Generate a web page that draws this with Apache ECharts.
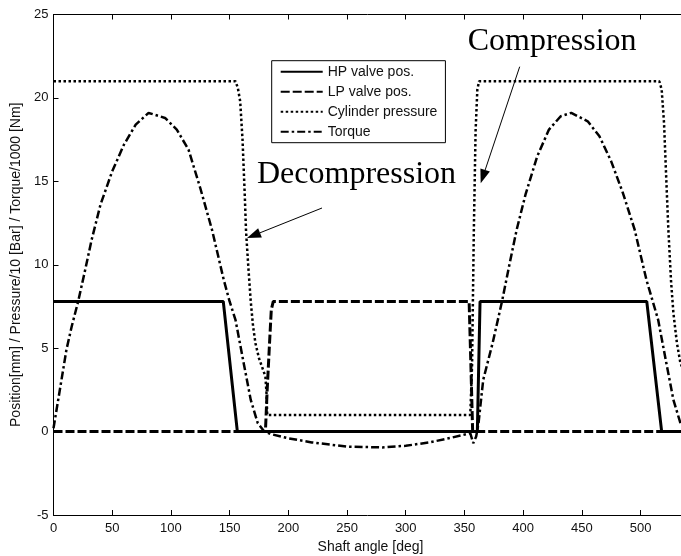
<!DOCTYPE html>
<html>
<head>
<meta charset="utf-8">
<script src="https://cdn.jsdelivr.net/npm/echarts@6/dist/echarts.min.js"></script>
<style>
  html, body { margin: 0; padding: 0; background: #fff; }
  #chart { width: 681px; height: 556px; }
</style>
</head>
<body>
<div id="chart"></div>
<script>
// values (shaft angle in deg)
const seriesNames = ['HP valve pos.', 'LP valve pos.', 'Cylinder pressure', 'Torque']

const hpAngle = [0, 144.6, 156.6, 361, 363.3, 505.3, 518, 540]
const hpPos = [7.8, 7.8, 0, 0, 7.8, 7.8, 0, 0]

const lpAngle = [0, 180.5, 182, 184, 185.5, 187.2, 354, 355.5, 357, 540]
const lpPos = [0, 0, 2.5, 5.3, 7.3, 7.8, 7.8, 4, 0, 0]

const pressAngle = [0, 155, 157, 159, 161, 163, 164, 166, 168, 170, 172, 175, 178, 180.5, 181.5, 182,
  355, 356.5, 358, 359.5, 361, 362.5, 516, 518, 520, 522, 523.7, 526, 528, 531, 534, 537, 540]
const pressVal = [21, 21, 20.6, 19.8, 17.5, 14, 12, 9.8, 7.8, 6.3, 5.3, 4.4, 3.8, 3.3, 2.2, 1.0,
  1.0, 4, 12, 18, 20.5, 21, 21, 20.5, 18.5, 15, 12.1, 9, 7.1, 5.3, 4.1, 3.6, 3.3]

const torqueAngle = [0, 4, 11, 15.5, 21, 27, 32.5, 40, 50, 60, 70, 81, 95, 105, 115, 125, 135, 145, 150,
  155, 162, 168, 174, 179, 185, 200, 220, 250, 280, 300, 320, 340, 352, 355, 357.5, 360, 362, 366, 374,
  382, 388, 394.5, 402, 412, 422, 432, 441, 455, 465, 475, 485, 495, 505, 515, 522, 528, 534, 540]
const torqueVal = [0.2, 1.9, 4.9, 6.3, 7.8, 9.7, 11.5, 13.6, 15.6, 17.2, 18.4, 19.1, 18.8, 18.1, 16.9, 14.6, 12.1, 9.1, 7.8,
  6.7, 4.1, 1.9, 0.5, 0.05, -0.15, -0.4, -0.65, -0.9, -0.95, -0.85, -0.65, -0.35, -0.15, -0.1, -0.7, -0.3, 0.5, 3.1, 5.3,
  7.8, 9.9, 12.1, 14.2, 16.5, 18.1, 18.9, 19.1, 18.6, 17.7, 16.2, 14.3, 12.1, 9.1, 6.7, 4.1, 1.9, 0.5, 0.1]

const xTicks = { min: 0, max: 540, interval: 50 }
const yTicks = { min: -5, max: 25, interval: 5 }

const pairs = (xs, ys) => xs.map((x, i) => [x, ys[i]])

const font = '"Liberation Sans", Arial, Helvetica, sans-serif'
const serif = '"Liberation Serif", "Times New Roman", serif'

const chart = echarts.init(document.getElementById('chart'), null, { renderer: 'canvas' })

const lineSeries = (name, data, type, width) => ({
  name,
  type: 'line',
  data,
  symbol: 'none',
  lineStyle: { color: '#000', width, type },
  itemStyle: { color: '#000' },
  z: 2
})

// arrow as a line plus a filled head
const arrow = (tail, tip) => {
  const dx = tip[0] - tail[0], dy = tip[1] - tail[1]
  const len = Math.sqrt(dx * dx + dy * dy)
  const ux = dx / len, uy = dy / len
  const headLen = 14, half = 5
  const bx = tip[0] - ux * headLen, by = tip[1] - uy * headLen
  return [
    { type: 'line', shape: { x1: tail[0], y1: tail[1], x2: bx, y2: by }, style: { stroke: '#000', lineWidth: 1 } },
    { type: 'polygon', shape: { points: [tip, [bx - uy * half, by + ux * half], [bx + uy * half, by - ux * half]] }, style: { fill: '#000' } }
  ]
}

const axisCommon = {
  axisLine: { show: true, onZero: false, lineStyle: { color: '#000', width: 1 } },
  axisTick: { show: true, inside: true, length: 5, lineStyle: { color: '#000', width: 1 } },
  splitLine: { show: false }
}

const option = {
  animation: false,
  backgroundColor: '#fff',
  grid: { left: 53.5, right: -6.5, top: 14.5, bottom: 41, containLabel: false, outerBoundsMode: 'none' },
  legend: {
    data: seriesNames,
    orient: 'vertical',
    left: 271.7,
    top: 60.7,
    padding: [4, 8, 4, 8],
    itemWidth: 42,
    itemHeight: 14,
    itemGap: 6,
    backgroundColor: '#fff',
    borderColor: '#000',
    borderWidth: 1,
    itemStyle: { opacity: 0 },
    textStyle: { fontFamily: font, fontSize: 14, color: '#111' }
  },
  xAxis: [
    {
      type: 'value',
      position: 'bottom',
      ...xTicks,
      ...axisCommon,
      axisLabel: { fontFamily: font, fontSize: 13, color: '#111', margin: 7, showMaxLabel: false },
      name: 'Shaft angle [deg]',
      nameLocation: 'middle',
      nameGap: 24,
      nameTextStyle: { fontFamily: font, fontSize: 14, color: '#111' }
    },
    {
      type: 'value',
      position: 'top',
      ...xTicks,
      ...axisCommon,
      axisLabel: { show: false }
    }
  ],
  yAxis: {
    type: 'value',
    ...yTicks,
    ...axisCommon,
    axisLabel: { fontFamily: font, fontSize: 13, color: '#111', margin: 5 },
    name: 'Position[mm] / Pressure/10 [Bar] / Torque/1000 [Nm]',
    nameLocation: 'middle',
    nameRotate: 90,
    nameGap: 27,
    nameTextStyle: { fontFamily: font, fontSize: 14, color: '#111' }
  },
  series: [
    lineSeries(seriesNames[0], pairs(hpAngle, hpPos), 'solid', 3),
    lineSeries(seriesNames[1], pairs(lpAngle, lpPos), [9, 3], 3),
    lineSeries(seriesNames[2], pairs(pressAngle, pressVal), [2.5, 2.5], 2.5),
    lineSeries(seriesNames[3], pairs(torqueAngle, torqueVal), [8, 3, 2.5, 3], 2.5)
  ],
  graphic: [
    { type: 'text', left: 467.7, top: 26, style: { text: 'Compression', font: '32px ' + serif, fill: '#000' } },
    { type: 'text', left: 257, top: 159, style: { text: 'Decompression', font: '32px ' + serif, fill: '#000' } },
    ...arrow([519.7, 66.7], [480.7, 183.3]),
    ...arrow([322, 208], [247, 238])
  ]
}

chart.setOption(option)
</script>
</body>
</html>
